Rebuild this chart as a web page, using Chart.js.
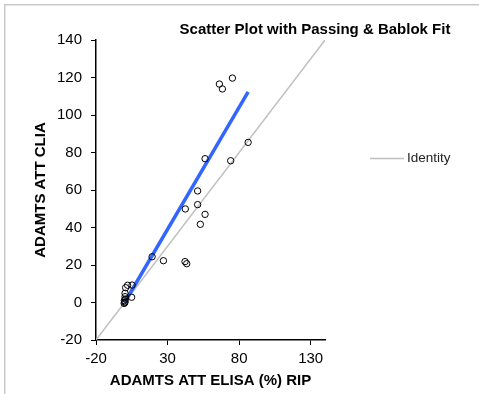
<!DOCTYPE html>
<html>
<head>
<meta charset="utf-8">
<script src="https://cdn.jsdelivr.net/npm/chart.js@4"></script>
<style>
  html, body { margin: 0; padding: 0; background: #fff; }
  #wrap { width: 479px; height: 394px; position: relative; }
</style>
</head>
<body>
<div id="wrap"><canvas id="myChart"></canvas></div>
<script>
// Method comparison: ELISA vs CLIA with Passing & Bablok regression

const elisaValues = [75.3, 66.2, 68.3, 86.3, 56.2, 74.1, 51, 51, 42.4, 56.2, 52.9,
  19.2, 27.1, 42.2, 43.4, 5.2, 2.1, 0.7, 0.3, 4.9, 0.3, -0.2, 0, 0.3, 0.5, -0.3]
const cliaValues = [119.7, 116.5, 113.9, 85.4, 76.7, 75.6, 59.5, 52.2, 49.9, 47, 41.7,
  24.4, 22.3, 21.8, 20.7, 9.3, 9.2, 7.9, 4.9, 2.8, 3.1, 1, 0, 0.3, 1.8, -0.5]

const identityX = [-20, 140]
const identityY = [-20, 140]

const fitX = [0, 86.3]
const fitY = [0, 112.3]

const xTicks = [-20, 30, 80, 130]
const yTicks = [-20, 0, 20, 40, 60, 80, 100, 120, 140]

const ctx = document.querySelector("#myChart")

const toPoints = (xs, ys) => xs.map((x, i) => ({x: x, y: ys[i]}))

const data = {
  datasets: [{
    type: 'scatter',
    label: 'Observations',
    data: toPoints(elisaValues, cliaValues),
    borderColor: '#000',
    backgroundColor: 'rgba(255,255,255,0)',
    borderWidth: 1,
    pointRadius: 3.2,
    order: 0
  }, {
    type: 'line',
    label: 'Passing & Bablok',
    data: toPoints(fitX, fitY),
    borderColor: '#3366FF',
    borderWidth: 3.5,
    pointRadius: 0,
    order: 1
  }, {
    type: 'line',
    label: 'Identity',
    data: toPoints(identityX, identityY),
    borderColor: '#C0C0C0',
    borderWidth: 1.5,
    pointRadius: 0,
    order: 2
  }]
}

// frame, title and legend placed like the original figure
const decorations = {
  id: 'decorations',
  beforeDraw(chart) {
    const c = chart.ctx
    c.save()
    c.strokeStyle = '#C8C8C8'
    c.lineWidth = 1.5
    c.beginPath()
    c.moveTo(4.75, 394)
    c.lineTo(4.75, 4.75)
    c.lineTo(479, 4.75)
    c.stroke()
    c.restore()
  },
  afterDraw(chart) {
    const c = chart.ctx
    c.save()
    c.fillStyle = '#000'
    c.font = 'bold 15px "Liberation Sans", Arial, sans-serif'
    c.textAlign = 'center'
    c.textBaseline = 'middle'
    c.fillText('Scatter Plot with Passing & Bablok Fit', 315, 30)

    c.strokeStyle = '#C0C0C0'
    c.lineWidth = 1.5
    c.beginPath()
    c.moveTo(370, 158.5)
    c.lineTo(404, 158.5)
    c.stroke()
    c.fillStyle = '#222'
    c.font = '13.5px "Liberation Sans", Arial, sans-serif'
    c.textAlign = 'left'
    c.fillText('Identity', 407, 158.5)
    c.restore()
  }
}

const axisFont = {family: '"Liberation Sans", Arial, sans-serif', size: 15}

const options = {
  responsive: true,
  maintainAspectRatio: false,
  animation: false,
  layout: {padding: {left: 0, top: 40, right: 154, bottom: 0}},
  plugins: {
    legend: {display: false},
    title: {display: false},
    tooltip: {enabled: false}
  },
  scales: {
    x: {
      type: 'linear',
      min: -20,
      max: 140,
      afterFit: s => { s.height = 54 },
      afterBuildTicks: s => { s.ticks = xTicks.map(v => ({value: v})) },
      ticks: {color: '#000', font: axisFont, padding: 5, maxRotation: 0},
      grid: {drawOnChartArea: false, drawTicks: true, tickLength: 5, color: '#000', lineWidth: 1},
      border: {color: '#000', width: 1.5},
      title: {
        display: true,
        text: 'ADAMTS ATT ELISA (%) RIP',
        color: '#000',
        font: {family: axisFont.family, size: 15, weight: 'bold'},
        padding: 4
      }
    },
    y: {
      type: 'linear',
      min: -20,
      max: 140,
      afterFit: s => { s.width = 96 },
      afterBuildTicks: s => { s.ticks = yTicks.map(v => ({value: v})) },
      ticks: {color: '#000', font: axisFont, padding: 9},
      grid: {drawOnChartArea: false, drawTicks: true, tickLength: 5, color: '#000', lineWidth: 1},
      border: {color: '#000', width: 1.5},
      title: {
        display: true,
        text: 'ADAMTS ATT CLIA',
        color: '#000',
        font: {family: axisFont.family, size: 15, weight: 'bold'},
        padding: 32
      }
    }
  }
}

const config = {
  type: 'scatter',
  data: data,
  options: options,
  plugins: [decorations]
}

const chart = new Chart(ctx, config)
</script>
</body>
</html>
